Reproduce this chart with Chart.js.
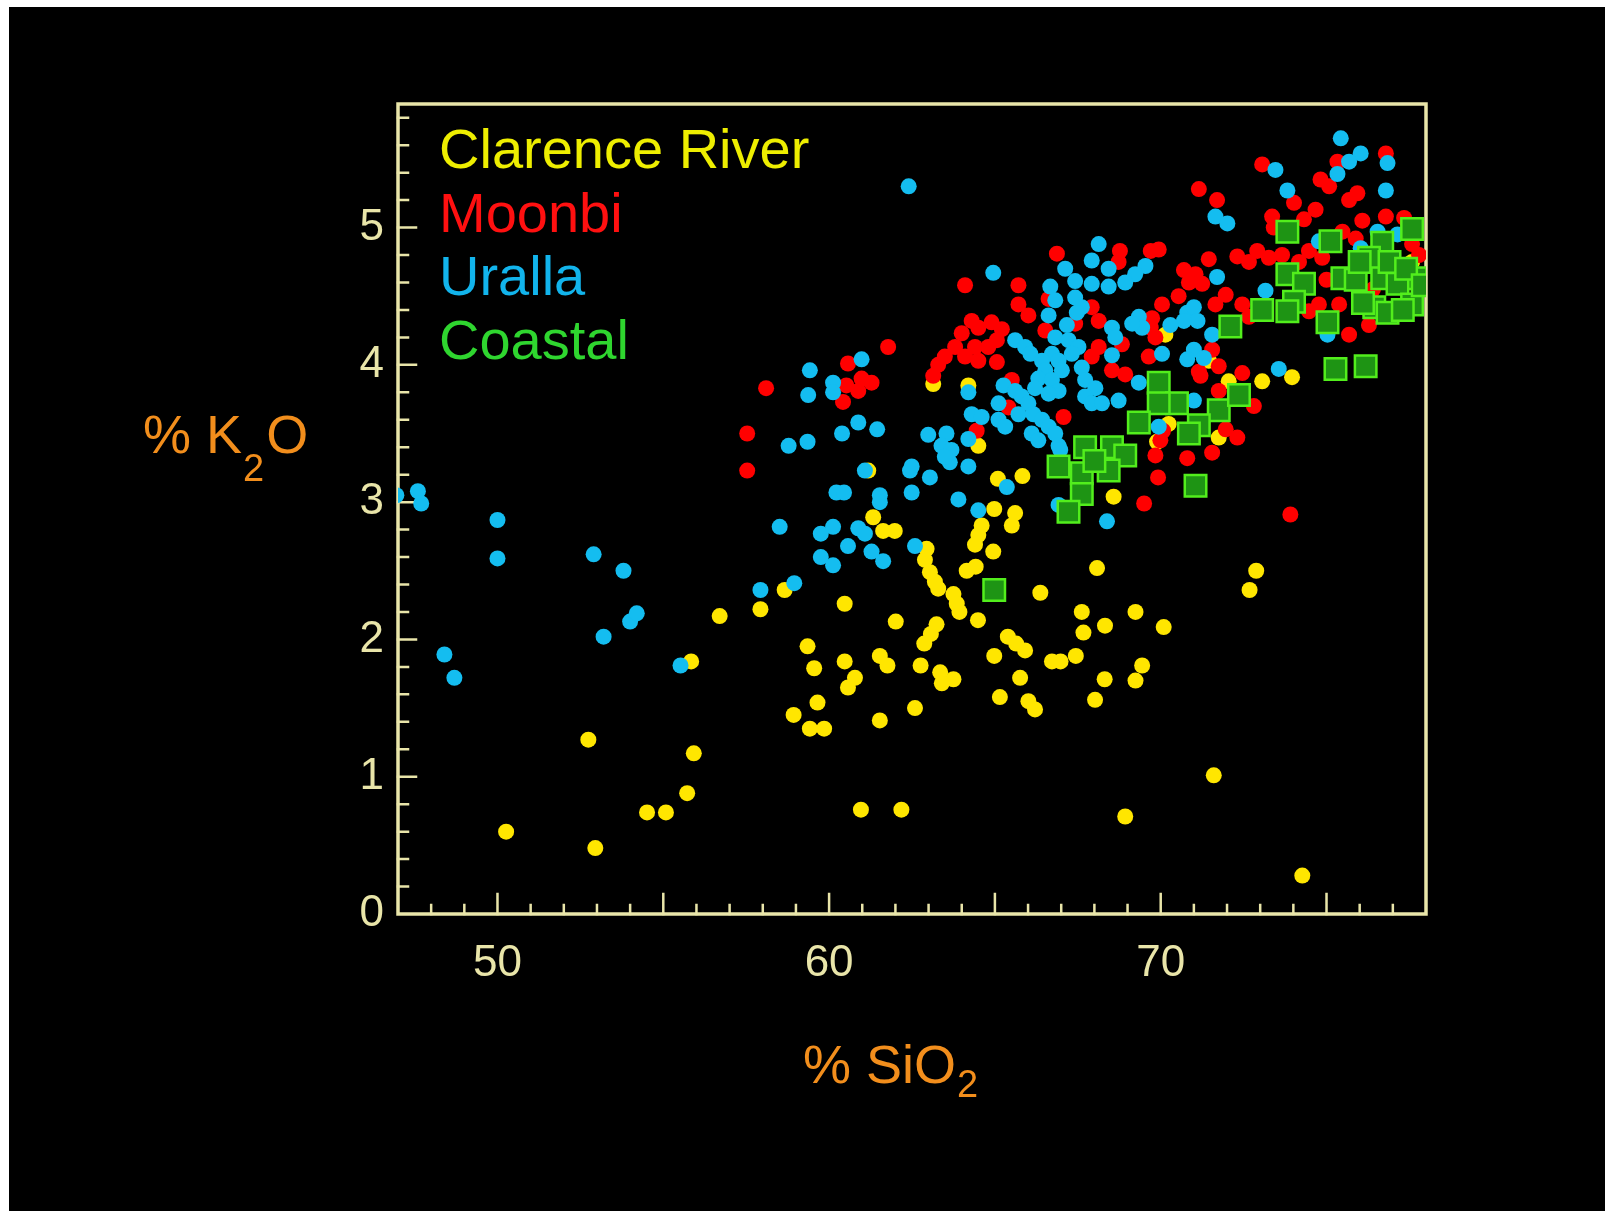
<!DOCTYPE html>
<html>
<head>
<meta charset="utf-8">
<script src="https://cdn.jsdelivr.net/npm/chart.js@4.4.1/dist/chart.umd.min.js"></script>
<style>
  html, body { margin: 0; background: #fff; }
  #wrap { position: absolute; left: 9px; top: 7px; width: 1596px; height: 1204px; background: #000; }
</style>
</head>
<body>
<div id="wrap"><canvas id="k2oChart" width="1596" height="1204"></canvas></div>
<script>
// series names (legend order)
const seriesNames = ['Clarence River', 'Moonbi', 'Uralla', 'Coastal'];

// [SiO2 %, K2O %]
const clarencePoints = [
  [50.26,0.60],[52.74,1.27],[52.95,0.48],[54.51,0.74],[55.08,0.74],[55.72,0.88],[55.92,1.17],[55.84,1.84],
  [56.70,2.17],[57.93,2.22],[58.66,2.36],[59.35,1.95],[59.55,1.79],[58.93,1.45],[59.42,1.35],[59.85,1.35],
  [59.65,1.54],[60.47,2.26],[60.47,1.84],[60.78,1.72],[60.57,1.65],[61.53,1.41],[60.96,0.76],[62.18,0.76],
  [61.53,1.88],[61.76,1.81],[62.01,2.13],[61.33,2.89],[61.63,2.79],[61.98,2.79],[61.18,3.23],[62.76,1.81],
  [62.59,1.50],[62.87,1.97],[63.07,2.04],[63.24,2.11],[63.35,1.76],[63.40,1.68],[63.75,1.71],[63.93,2.20],
  [64.49,2.14],[64.98,1.88],[65.15,1.58],[65.39,2.02],[65.64,1.97],[65.91,1.92],[65.76,1.72],[66.01,1.55],
  [66.21,1.49],[66.72,1.84],[66.98,1.84],[67.44,1.88],[67.62,2.20],[67.67,2.05],[68.32,2.10],[68.31,1.71],
  [68.02,1.56],[69.24,2.20],[69.24,1.70],[69.44,1.81],[68.93,0.71],[68.08,2.52],[66.37,2.34],[62.94,2.66],
  [62.89,2.58],[63.04,2.49],[63.19,2.42],[63.29,2.37],[63.75,2.33],[63.85,2.26],[64.15,2.50],[64.42,2.53],
  [64.40,2.69],[64.50,2.76],[64.60,2.83],[64.95,2.64],[64.98,2.95],[65.61,2.92],[65.51,2.83],[65.09,3.17],
  [65.83,3.19],[68.58,3.04],[63.14,3.86],[64.20,3.85],[64.50,3.41],[69.89,3.44],[71.60,1.01],[74.27,0.28],
  [72.88,2.50],[72.68,2.36],[70.09,2.09],[73.06,3.88],[73.96,3.91],[72.05,3.88],[71.45,4.03],[70.14,4.22],
  [71.75,3.47],[70.24,3.57],[77.58,4.75]
];

const moonbiPoints = [
  [57.53,3.50],[57.53,3.23],[58.10,3.83],[60.57,4.01],[60.52,3.85],[60.42,3.73],[60.88,3.81],[60.98,3.90],
  [61.28,3.87],[61.78,4.13],[66.87,4.81],[68.77,4.83],[68.73,4.75],[69.70,4.83],[64.10,4.58],[65.71,4.58],
  [65.71,4.44],[66.01,4.36],[66.62,4.48],[64.30,4.32],[64.50,4.27],[64.90,4.31],[65.21,4.26],[65.06,4.18],
  [64.00,4.23],[63.49,4.06],[63.80,4.13],[64.10,4.06],[64.50,4.03],[64.40,4.13],[64.80,4.13],[63.29,4.00],
  [63.14,3.92],[65.06,4.02],[66.52,4.25],[67.42,4.30],[67.92,4.42],[68.13,4.32],[68.13,4.13],[67.92,4.06],
  [68.83,4.15],[68.53,3.96],[68.93,3.93],[69.70,4.27],[65.51,3.89],[65.41,3.69],[67.07,3.62],[64.45,3.52],
  [76.79,5.54],[75.33,5.48],[73.06,5.46],[74.82,5.35],[75.08,5.30],[75.68,5.20],[75.93,5.25],[71.15,5.28],
  [71.70,5.20],[74.02,5.18],[74.67,5.13],[76.79,5.08],[77.34,5.07],[73.36,5.08],[73.41,5.00],[74.32,5.06],
  [69.94,4.84],[72.31,4.79],[72.66,4.75],[72.91,4.83],[73.26,4.78],[73.66,4.80],[74.17,4.75],[74.47,4.83],
  [74.87,4.78],[75.48,4.97],[75.88,4.92],[76.08,5.05],[77.58,4.88],[77.79,4.80],[70.70,4.69],[71.45,4.77],
  [71.05,4.66],[70.85,4.60],[71.25,4.59],[71.96,4.51],[71.65,4.44],[72.46,4.44],[72.96,4.39],[70.54,4.50],
  [70.04,4.44],[69.74,4.34],[72.66,4.35],[74.47,4.39],[74.77,4.44],[75.38,4.44],[75.68,4.22],[76.28,4.29],
  [69.84,4.20],[71.15,3.95],[71.75,3.99],[72.46,3.94],[71.55,4.11],[71.20,3.92],[72.81,3.70],[71.75,3.81],
  [71.96,3.53],[72.31,3.47],[71.55,3.36],[70.80,3.32],[69.99,3.45],[69.84,3.34],[69.92,3.18],[69.50,2.99],
  [73.91,2.91],[70.07,3.52],[69.64,4.06],[75.00,4.62],[76.40,4.55]
];

const urallaPoints = [
  [46.95,3.05],[47.60,3.08],[47.70,2.99],[48.40,1.89],[48.70,1.72],[50.00,2.87],[50.00,2.59],[52.90,2.62],
  [53.80,2.50],[53.20,2.02],[54.00,2.13],[54.20,2.19],[55.52,1.81],[57.93,2.36],[58.51,2.82],[58.78,3.41],
  [59.35,3.44],[58.95,2.41],[59.42,3.96],[59.37,3.78],[60.98,4.04],[60.12,3.87],[60.12,3.80],[60.88,3.58],
  [60.39,3.50],[61.45,3.53],[61.08,3.23],[60.22,3.07],[60.45,3.07],[61.53,3.05],[61.53,3.00],[59.75,2.77],
  [60.12,2.82],[60.88,2.81],[61.08,2.77],[60.57,2.68],[61.28,2.64],[61.63,2.57],[59.75,2.60],[60.12,2.54],
  [62.40,5.30],[62.44,3.23],[63.04,3.18],[64.20,3.26],[63.64,3.29],[65.36,3.11],[62.49,3.07],[63.90,3.02],
  [64.50,2.94],[62.59,2.68],[66.92,2.98],[68.38,2.86],[64.95,4.67],[68.13,4.88],[67.92,4.76],[67.12,4.70],
  [68.43,4.70],[69.54,4.72],[69.23,4.66],[68.93,4.60],[67.42,4.61],[67.92,4.59],[68.43,4.57],[66.67,4.57],
  [66.82,4.47],[67.42,4.49],[67.62,4.42],[66.62,4.36],[67.47,4.38],[69.34,4.35],[69.44,4.27],[69.14,4.30],
  [68.53,4.27],[68.63,4.20],[67.17,4.29],[66.82,4.20],[65.61,4.18],[65.91,4.13],[66.07,4.08],[67.22,4.18],
  [67.52,4.13],[67.32,4.08],[66.72,4.08],[66.42,4.03],[66.52,3.96],[66.92,4.03],[67.02,3.96],[68.53,4.07],
  [66.31,3.90],[66.72,3.89],[66.21,3.83],[66.92,3.81],[66.62,3.79],[67.62,3.98],[67.72,3.89],[68.03,3.83],
  [67.72,3.77],[67.92,3.72],[68.23,3.72],[68.73,3.74],[69.34,3.87],[65.26,3.85],[64.20,3.80],[65.61,3.81],
  [65.81,3.77],[66.01,3.72],[65.11,3.72],[65.71,3.64],[66.16,3.64],[66.42,3.60],[66.62,3.55],[66.82,3.50],
  [66.92,3.41],[66.97,3.38],[65.11,3.60],[65.31,3.55],[64.30,3.64],[64.60,3.62],[62.99,3.49],[63.54,3.50],
  [63.39,3.41],[63.69,3.38],[63.49,3.33],[64.20,3.46],[66.11,3.50],[66.31,3.45],[62.49,3.26],[75.43,5.65],
  [76.03,5.54],[75.68,5.48],[76.84,5.47],[75.33,5.39],[73.46,5.42],[73.82,5.27],[76.79,5.27],[71.65,5.08],
  [72.01,5.03],[71.70,4.64],[73.16,4.54],[70.80,4.38],[71.00,4.42],[71.11,4.32],[70.70,4.32],[70.29,4.29],
  [71.55,4.22],[70.04,4.08],[71.00,4.11],[71.30,4.05],[70.80,4.04],[74.77,4.90],[76.03,4.85],[76.54,4.97],
  [77.14,4.95],[75.03,4.22],[73.56,3.97],[69.94,3.55],[71.00,3.74]
];

const coastalPoints = [
  [73.82,4.97],[75.12,4.90],[76.68,4.89],[77.58,4.99],[76.28,4.78],[73.82,4.66],[74.32,4.59],[75.48,4.63],
  [75.88,4.62],[76.68,4.63],[77.69,4.63],[77.14,4.59],[74.02,4.46],[73.82,4.39],[73.06,4.40],[72.10,4.28],
  [75.03,4.31],[76.44,4.42],[76.84,4.38],[77.58,4.44],[75.27,3.97],[76.18,3.99],[69.94,3.87],[70.49,3.72],
  [69.94,3.72],[71.75,3.67],[72.36,3.78],[71.15,3.56],[70.85,3.50],[71.05,3.12],[69.34,3.58],[67.72,3.40],
  [68.53,3.40],[68.93,3.34],[66.92,3.26],[67.62,3.21],[68.43,3.23],[68.00,3.30],[67.62,3.06],[67.22,2.93],
  [64.98,2.36],[76.00,4.75],[76.90,4.75],[77.40,4.70],[76.10,4.45],[77.30,4.40],[77.90,4.58]
];

// axis ranges and ticks
const xRange = [47, 78];
const yRange = [0, 5.9];
const xLabelStep = 10;
const yLabelStep = 1;
const xMinorStep = 1, xMajorEvery = 5;   // minor tick each 1 %, long tick each 5 %
const yMinorStep = 0.2, yMajorEvery = 5; // minor tick each 0.2 %, long tick each 1 %

const FONT = '"Liberation Sans", Arial, Helvetica, sans-serif';
const AXIS_COLOR = '#e9e5a9';
const TITLE_COLOR = '#f28e1c';
const legendColors = ['#eeee00', '#ff1010', '#12b4ec', '#2fd62f'];

function toXY(points) {
  return points.map(p => ({ x: p[0], y: p[1] }));
}

// box, inward ticks, axis titles, text legend
const framePlugin = {
  id: 'frame',
  beforeDatasetsDraw(chart) {
    const { ctx, chartArea: a, scales: { x, y } } = chart;
    ctx.save();
    ctx.strokeStyle = AXIS_COLOR;
    ctx.lineCap = 'square';
    ctx.lineWidth = 2.5;
    ctx.beginPath();
    const nx = Math.round((xRange[1] - xRange[0]) / xMinorStep);
    for (let i = 1; i < nx; i++) {
      const v = xRange[0] + i * xMinorStep;
      const px = x.getPixelForValue(v);
      const len = (Math.round(v) % xMajorEvery === 0) ? 20 : 9;
      ctx.moveTo(px, a.bottom);
      ctx.lineTo(px, a.bottom - len);
    }
    const ny = Math.floor((yRange[1] - yRange[0]) / yMinorStep + 1e-6);
    for (let i = 1; i <= ny; i++) {
      const py = y.getPixelForValue(yRange[0] + i * yMinorStep);
      const len = (i % yMajorEvery === 0) ? 18 : 10;
      ctx.moveTo(a.left, py);
      ctx.lineTo(a.left + len, py);
    }
    ctx.stroke();
    ctx.lineWidth = 3.5;
    ctx.strokeRect(a.left, a.top, a.right - a.left, a.bottom - a.top);

    // axis titles with subscripts
    ctx.fillStyle = TITLE_COLOR;
    ctx.textBaseline = 'alphabetic';
    ctx.textAlign = 'left';
    const drawSub = (main, sub, tail, left, base, drop) => {
      ctx.font = '54px ' + FONT;
      ctx.fillText(main, left, base);
      let w = ctx.measureText(main).width;
      ctx.font = '38px ' + FONT;
      ctx.fillText(sub, left + w + 1, base + drop);
      w += ctx.measureText(sub).width + 3;
      ctx.font = '54px ' + FONT;
      ctx.fillText(tail, left + w, base);
    };
    drawSub('% SiO', '2', '', 794, 1076, 14);
    drawSub('% K', '2', 'O', 134, 446, 28);

    // legend as coloured text
    ctx.font = '56px ' + FONT;
    chart.data.datasets.forEach((ds, i) => {
      ctx.fillStyle = legendColors[i];
      ctx.fillText(ds.label, a.left + 41, a.top + 64 + i * 63.5);
    });
    ctx.restore();
  }
};

const ctx = document.getElementById('k2oChart').getContext('2d');

const data = {
  datasets: [
    {
      label: seriesNames[0], data: toXY(clarencePoints), order: 3,
      backgroundColor: '#ffe600', borderWidth: 0, pointRadius: 8
    },
    {
      label: seriesNames[1], data: toXY(moonbiPoints), order: 2,
      backgroundColor: '#ff0000', borderWidth: 0, pointRadius: 8
    },
    {
      label: seriesNames[2], data: toXY(urallaPoints), order: 1,
      backgroundColor: '#14bdf0', borderWidth: 0, pointRadius: 8
    },
    {
      label: seriesNames[3], data: toXY(coastalPoints), order: 0,
      backgroundColor: '#1e9414', borderColor: '#52ee1c', borderWidth: 2.5,
      pointStyle: 'rect', pointRadius: 15.2
    }
  ]
};

const tickFont = { family: FONT, size: 44 };

const config = {
  type: 'scatter',
  data: data,
  options: {
    responsive: false,
    animation: false,
    layout: { padding: { top: 97, right: 179, left: 0, bottom: 0 } },
    scales: {
      x: {
        type: 'linear', min: xRange[0], max: xRange[1],
        afterFit: s => { s.height = 297; },
        border: { display: false },
        grid: { display: false, drawTicks: false },
        ticks: { stepSize: xLabelStep, includeBounds: false, color: AXIS_COLOR, font: tickFont, padding: 23 }
      },
      y: {
        type: 'linear', min: yRange[0], max: yRange[1],
        afterFit: s => { s.width = 389; },
        border: { display: false },
        grid: { display: false, drawTicks: false },
        ticks: { stepSize: yLabelStep, includeBounds: false, color: AXIS_COLOR, font: tickFont, padding: 14 }
      }
    },
    plugins: {
      legend: { display: false },
      tooltip: { enabled: false }
    }
  },
  plugins: [framePlugin]
};

window.k2oChart = new Chart(ctx, config);
</script>
</body>
</html>
